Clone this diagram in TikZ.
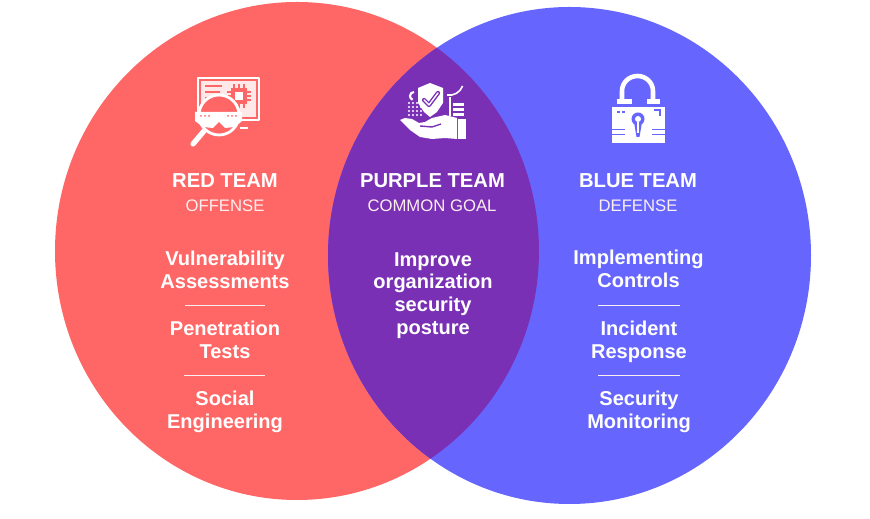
\documentclass[tikz,border=0pt]{standalone}
\usepackage{fontspec}
\setmainfont{Liberation Sans}
\definecolor{redteam}{HTML}{FF6666}
\definecolor{blueteam}{HTML}{6666FF}
\definecolor{purpleteam}{HTML}{7A30B4}
\definecolor{softwhite}{HTML}{FBEFF0}
\tikzset{
  headtext/.style={text=white, font=\bfseries\fontsize{11.5}{12}\selectfont, align=center},
  subtext/.style={text=softwhite, font=\fontsize{9.5}{10}\selectfont, align=center},
  itemtext/.style={text=white, font=\bfseries\fontsize{11.4}{13}\selectfont, align=center},
  divider/.style={draw=softwhite, line width=0.4pt},
  icon/.style={draw=white, line width=1.1pt, line cap=round, line join=round}
}
\begin{document}
\begin{tikzpicture}[x=0.02cm, y=-0.02cm]
\useasboundingbox (0,0) rectangle (870,519);
\fill[white] (0,0) rectangle (870,519);

% circles
\fill[redteam] (297,251) ellipse [x radius=242, y radius=249];
\fill[blueteam] (569.5,255.5) ellipse [x radius=241.5, y radius=248.5];
\begin{scope}
  \clip (297,251) ellipse [x radius=242, y radius=249];
  \fill[purpleteam] (569.5,255.5) ellipse [x radius=241.5, y radius=248.5];
\end{scope}

% red icon
\draw[icon] (198,118)--(198,78)--(259,78)--(259,120)--(240,120);
\fill[white, opacity=0.85] (201,81) rectangle (256,117);
\fill[redteam] (205,85) rectangle (222,87.5);
\fill[redteam] (205,91) rectangle (220,93.5);
\fill[redteam] (205,97) rectangle (216,99.5);
\fill[redteam] (231,88) rectangle (247,104);
\draw[redteam, line width=0.9pt] (234,84)--(234,108) (239,84)--(239,108) (244,84)--(244,108) (227,92)--(251,92) (227,96)--(251,96) (227,100)--(251,100);
\fill[white] (235,92) rectangle (243,100);
\fill[redteam] (219,115) circle (21);
\draw[white, line width=1.6pt] (219,115) circle (20);
\draw[white, line width=3pt, line cap=round] (204,131)--(193,144);
\fill[white] (195,112)--(242,112)--(242,121)--(235,127)--(225,128)--(219,122)--(213,128)--(203,127)--(195,121)--cycle;
\foreach \dotcol in {201,205,209,228,232,236}
  \fill[redteam] (\dotcol,116) circle (1);
\fill[white] (240,127) rectangle (248,129);

% purple icon
\fill[white] (418,88)--(430,83)--(443,88)--(443,103)--(437,112)--(430,117)--(424,112)--(418,103)--cycle;
\draw[purpleteam, line width=2.4pt, line cap=round, line join=round] (424,100)--(429,105)--(438,93);
\draw[white, line width=0.8pt, line cap=round, line join=round] (424,100)--(429,105)--(438,93);
\draw[white, line width=1.2pt] (414,92) arc [start angle=270, end angle=110, radius=4];
\draw[white, line width=0.9pt] (447,95) arc [start angle=100, end angle=20, radius=14];
\foreach \dotrow in {103,107,111,115}
  \foreach \dotcol in {409,413,417,421}
    \fill[white] (\dotcol,\dotrow) circle (1.2);
\fill[white] (449,97) rectangle (451,116);
\fill[white] (453,103) rectangle (464,106);
\fill[white] (453,108) rectangle (464,111);
\fill[white] (453,113) rectangle (464,116);
\fill[white] (400,120)--(405,118)--(412,119)--(419,123)--(425,122)--(432,118)--(445,115)--(457,118)--(457,139)--(445,138)--(432,139)--(420,137)--(410,130)--cycle;
\fill[white] (458,119) rectangle (466,139);
\draw[purpleteam, line width=0.8pt] (420,126)--(432,127)--(441,124);

% blue icon
\draw[white, line width=2.6pt] (622,102)--(622,91) arc [start angle=180, end angle=360, x radius=15.5, y radius=15]--(653,102);
\fill[white] (617,99) rectangle (632,104);
\fill[white] (647,99) rectangle (660,104);
\fill[white] (612,107) rectangle (665,143);
\fill[blueteam] (612,129) rectangle (625,130.5);
\fill[blueteam] (612,134) rectangle (625,135.5);
\fill[blueteam] (652,129) rectangle (665,130.5);
\fill[blueteam] (652,134) rectangle (665,135.5);
\fill[blueteam] (638,119) circle (6.5);
\fill[blueteam] (634,122)--(642,122)--(639.5,137)--(636.5,137)--cycle;
\fill[white] (638,119) circle (3);
\fill[white] (637,122) rectangle (639,133);
\fill[blueteam] (617,111) rectangle (620,113);
\fill[blueteam] (622,111) rectangle (625,113);
\draw[blueteam, line width=0.9pt] (654,110)--(660,110)--(660,116);

% red column
\node[headtext] (redhead) at (225,181) {RED TEAM};
\node[subtext] (redsub) at (225,206) {OFFENSE};
\node[itemtext] (reditema) at (225,269.5) {Vulnerability\\Assessments};
\node[itemtext] (reditemb) at (225,339.5) {Penetration\\Tests};
\node[itemtext] (reditemc) at (225,411.5) {Social\\Engineering};
\coordinate (redlinea) at (185,305);
\coordinate (redlineb) at (265,305);
\coordinate (redlinec) at (184,375);
\coordinate (redlined) at (265,375);
\draw[divider] (redlinea)--(redlineb);
\draw[divider] (redlinec)--(redlined);

% purple column
\node[headtext] (purplehead) at (432.5,181) {PURPLE TEAM};
\node[subtext] (purplesub) at (432,206) {COMMON GOAL};
\node[itemtext] (purpleitem) at (433,295.5) {Improve\\organization\\security\\posture};

% blue column
\node[headtext] (bluehead) at (638,181) {BLUE TEAM};
\node[subtext] (bluesub) at (638,206) {DEFENSE};
\node[itemtext] (blueitema) at (638.5,269) {Implementing\\Controls};
\node[itemtext] (blueitemb) at (639,341.5) {Incident\\Response};
\node[itemtext] (blueitemc) at (639,411.5) {Security\\Monitoring};
\coordinate (bluelinea) at (598,305);
\coordinate (bluelineb) at (680,305);
\coordinate (bluelinec) at (598,375);
\coordinate (bluelined) at (680,375);
\draw[divider] (bluelinea)--(bluelineb);
\draw[divider] (bluelinec)--(bluelined);

\end{tikzpicture}
\end{document}
